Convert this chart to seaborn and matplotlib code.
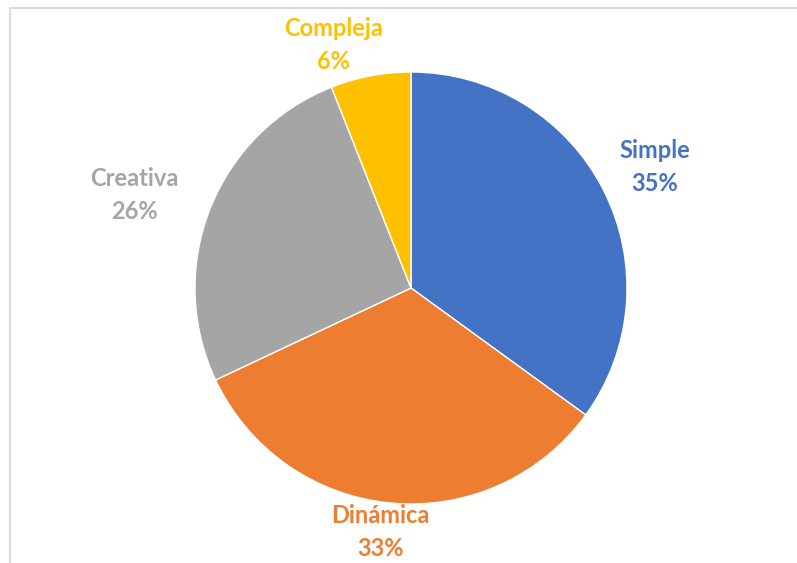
import matplotlib
matplotlib.use("Agg")
import matplotlib.pyplot as plt
from matplotlib.lines import Line2D
import seaborn as sns
import numpy as np

categories = ["Simple", "Dinámica", "Creativa", "Compleja"]
values = [35, 33, 26, 6]
colors = ["#4472C4", "#ED7D31", "#A5A5A5", "#FFC000"]

sns.set_theme(style="white")
plt.rcParams["font.family"] = ["Lato", "DejaVu Sans"]

palette = sns.color_palette(colors)

fig = plt.figure(figsize=(7.97, 5.63), dpi=100)
fig.patch.set_facecolor("white")

# light chart-area border along the top and left edges
x0, y0 = 10 / 797, 1 - 8 / 563
fig.add_artist(Line2D([x0, 1.0], [y0, y0], transform=fig.transFigure,
                      color="#dcdcdc", linewidth=1.5))
fig.add_artist(Line2D([x0, x0], [0.0, y0], transform=fig.transFigure,
                      color="#dcdcdc", linewidth=1.5))

ax = fig.add_axes([195 / 797, 59 / 563, 432 / 797, 432 / 563])
wedges, _ = ax.pie(values, colors=palette, startangle=90, counterclock=False,
                   radius=1.0, wedgeprops=dict(edgecolor="white", linewidth=1.0))
ax.set_xlim(-1, 1)
ax.set_ylim(-1, 1)
ax.set_aspect("equal")
ax.axis("off")

# label placement (data coordinates of the pie axes)
label_pos = [(1.13, 0.56), (-0.14, -1.13), (-1.28, 0.43), (-0.36, 1.125)]
total = sum(values)
for name, val, col, (x, y) in zip(categories, values, colors, label_pos):
    ax.text(x, y, f"{name}\n{val / total:.0%}", ha="center", va="center",
            color=col, fontsize=17, fontweight="bold", linespacing=1.5,
            clip_on=False)

fig.savefig("out.png", dpi=100, facecolor="white")
